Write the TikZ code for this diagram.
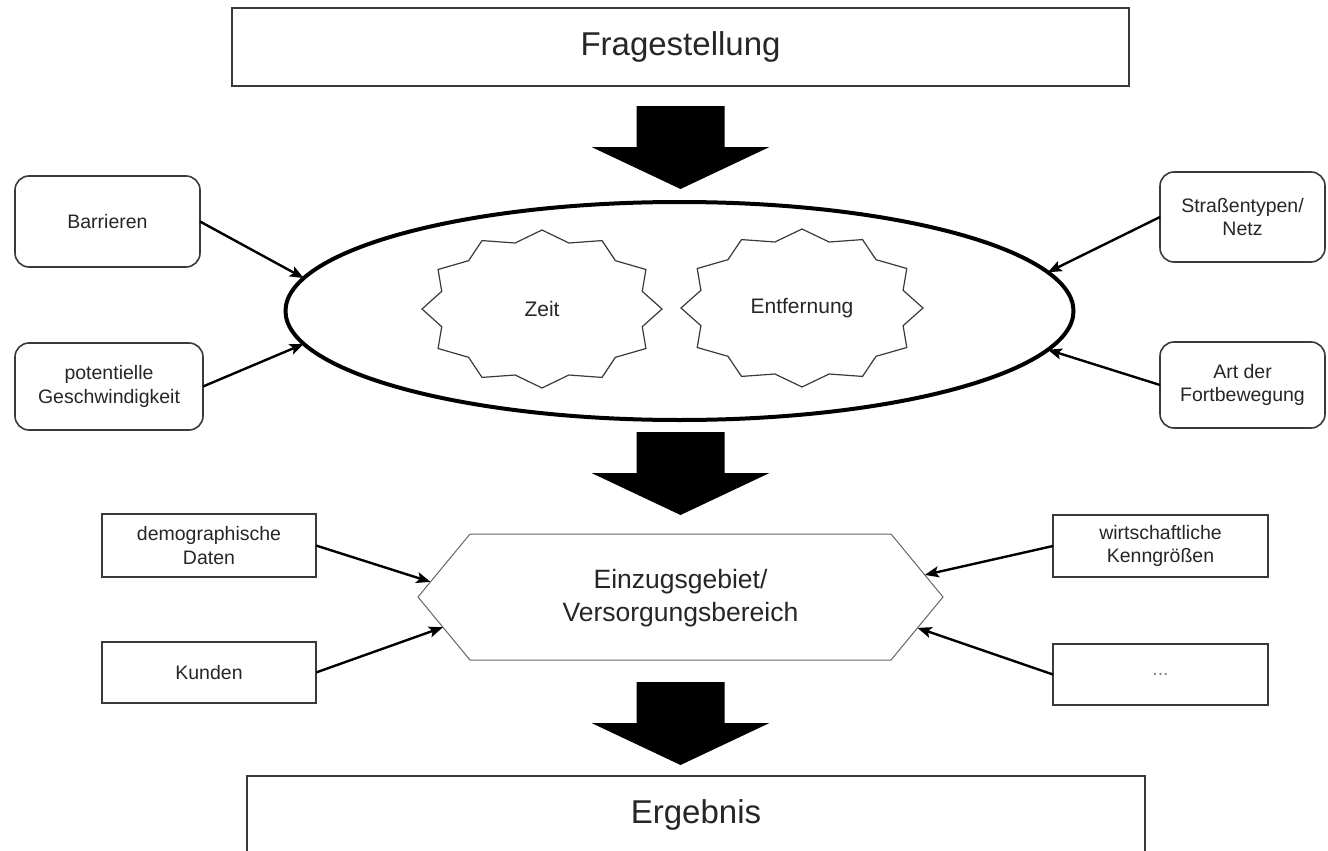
\documentclass[tikz,border=0pt]{standalone}
\usepackage{fontspec}
\setmainfont{Liberation Sans}
\usetikzlibrary{shapes.geometric,arrows.meta,calc}
\definecolor{boxline}{HTML}{3A3A3A}
\definecolor{txt}{HTML}{262626}
\newcommand\fsmall{\fontsize{19.5pt}{23.5pt}\selectfont}
\newcommand\fstar{\fontsize{21pt}{25pt}\selectfont}
\newcommand\fhex{\fontsize{26.5pt}{33pt}\selectfont}
\newcommand\fbig{\fontsize{33pt}{38pt}\selectfont}
\begin{document}
\begin{tikzpicture}[x=1pt,y=-1pt,
  every node/.style={text=txt, inner sep=0pt, outer sep=0pt},
  bigbox/.style={draw=boxline, line width=2pt, font=\fbig},
  roundbox/.style={draw=boxline, line width=1.6pt, rounded corners=14pt, align=center, font=\fsmall},
  sqbox/.style={draw=boxline, line width=1.6pt, align=center, font=\fsmall},
  feed/.style={line width=2.4pt, black, -{Stealth[length=14pt,width=11pt,inset=3pt]}},
  starline/.style={draw=boxline, line width=1.2pt, line join=miter},
  blockarrow/.pic={\fill[black] (-44,0) -- (44,0) -- (44,41) -- (89,41) -- (0,83) -- (-89,41) -- (-44,41) -- cycle;}
]
\useasboundingbox (0,0) rectangle (1328,851);
\clip (0,0) rectangle (1328,851);
\fill[white] (0,0) rectangle (1328,851);

% top and bottom boxes
\node[bigbox, minimum width=897pt, minimum height=78pt] (frage) at (680.5,47) {Fragestellung};
\node[bigbox, minimum width=898pt, minimum height=78pt] (erg) at (696,815) {Ergebnis};

% block arrows
\pic at (680.5,106) {blockarrow};
\pic at (680.5,432) {blockarrow};
\pic at (680.5,682) {blockarrow};

% ellipse with stars
\node[ellipse, draw=black, line width=4pt, minimum width=788pt, minimum height=218pt] (ell) at (679.5,311) {};
\draw[starline] plot[samples at={0,1,...,23}, variable=\k]
  ({542+(1-0.135*mod(\k,2))*120*cos(90+15*\k)}, {309+(1-0.135*mod(\k,2))*79*sin(90+15*\k)}) -- cycle;
\draw[starline] plot[samples at={0,1,...,23}, variable=\k]
  ({802+(1-0.135*mod(\k,2))*121*cos(90+15*\k)}, {308+(1-0.135*mod(\k,2))*79*sin(90+15*\k)}) -- cycle;
\node[font=\fstar] (zeit) at (542,309) {Zeit};
\node[font=\fstar] (entf) at (802,308) {Entfernung};

% side boxes around the ellipse
\node[roundbox, minimum width=185pt, minimum height=91pt] (barr) at (107.5,221.5) {Barrieren};
\node[roundbox, minimum width=188pt, minimum height=87pt] (pot) at (109,386.5) {potentielle\\Geschwindigkeit};
\node[roundbox, minimum width=165pt, minimum height=90pt] (str) at (1242.5,217) {Straßentypen/\\Netz};
\node[roundbox, minimum width=165pt, minimum height=86pt] (art) at (1242.5,385) {Art der\\Fortbewegung};

\draw[feed] (barr.east) -- (ell.175);
\draw[feed] (pot.east) -- (ell.185);
\draw[feed] (str.west) -- (ell.6);
\draw[feed] (art.west) -- (ell.354);

% hexagon
\coordinate (hW) at (418,597);
\coordinate (hNW) at (470,534);
\coordinate (hNE) at (891,534);
\coordinate (hE) at (943,597);
\coordinate (hSE) at (891,660);
\coordinate (hSW) at (470,660);
\draw[draw=black!60, line width=1pt] (hW) -- (hNW) -- (hNE) -- (hE) -- (hSE) -- (hSW) -- cycle;
\node[font=\fhex, align=center] (hex) at (680.5,598) {Einzugsgebiet/\\Versorgungsbereich};

\coordinate (inDemo) at ($(hW)!0.24!(hNW)$);
\coordinate (inKund) at ($(hW)!0.48!(hSW)$);
\coordinate (inWirt) at ($(hE)!0.35!(hNE)$);
\coordinate (inEtc) at ($(hE)!0.49!(hSE)$);

\node[sqbox, minimum width=214pt, minimum height=63pt] (demo) at (209,545.5) {demographische\\Daten};
\node[sqbox, minimum width=214pt, minimum height=61pt] (kund) at (209,672.5) {Kunden};
\node[sqbox, minimum width=215pt, minimum height=62pt] (wirt) at (1160.5,546) {wirtschaftliche\\Kenngrößen};
\node[sqbox, minimum width=215pt, minimum height=61pt, text=black!50] (etc) at (1160.5,674.5) {...};

\draw[feed] (demo.east) -- (inDemo);
\draw[feed] (kund.east) -- (inKund);
\draw[feed] (wirt.west) -- (inWirt);
\draw[feed] (etc.west) -- (inEtc);
\end{tikzpicture}
\end{document}
